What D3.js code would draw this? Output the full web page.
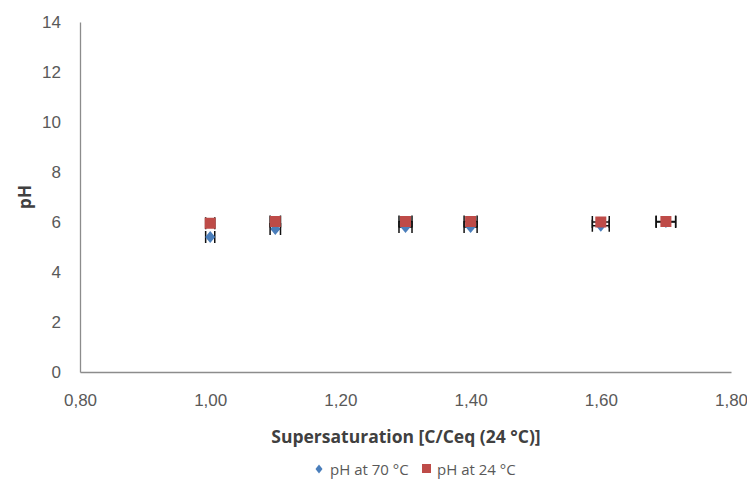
<!DOCTYPE html>
<html>
<head>
<meta charset="utf-8">
<script src="https://cdn.jsdelivr.net/npm/d3@7/dist/d3.min.js"></script>
<style>
  html, body { margin: 0; padding: 0; background: #fff; }
  svg { display: block; font-family: "Open Sans", "Noto Sans", sans-serif; }
</style>
</head>
<body>
<svg id="chart" width="747" height="484"></svg>
<script>
// Supersaturation (C/Ceq at 24 °C) for each run
const supersaturation = [1.00, 1.10, 1.30, 1.40, 1.60, 1.70];
// Measured pH values
const ph70 = [5.40, 5.72, 5.80, 5.80, 5.85, 6.00];
const ph24 = [5.95, 6.02, 6.02, 6.02, 6.00, 6.02];
// Horizontal uncertainty of the supersaturation
const xErr70 = [0.007, 0.008, 0.010, 0.010, 0.013, 0.015];
const xErr24 = [0.007, 0.008, 0.010, 0.010, 0.013, 0.015];
// Axis ticks
const xTicks = [0.80, 1.00, 1.20, 1.40, 1.60, 1.80];
const yTicks = [0, 2, 4, 6, 8, 10, 12, 14];
const seriesNames = ["pH at 70 °C", "pH at 24 °C"];

const svg = d3.select("#chart");
const x = d3.scaleLinear().domain([0.8, 1.8]).range([80, 731]);
const y = d3.scaleLinear().domain([0, 14]).range([372, 22]);
const axisColor = "#8c8c8c";
const textColor = "#595959";
const fmt = v => d3.format(".2f")(v).replace(".", ",");

// Y axis
const yAxis = svg.append("g").attr("transform", `translate(${x(0.8)},0)`)
  .call(d3.axisLeft(y).tickValues(yTicks).tickSize(0).tickPadding(19));
yAxis.select(".domain").attr("stroke", axisColor).attr("stroke-width", 1.3);
yAxis.selectAll("text").attr("fill", textColor).attr("font-size", 17);

// X axis
const xAxis = svg.append("g").attr("transform", `translate(0,${y(0)})`)
  .call(d3.axisBottom(x).tickValues(xTicks).tickFormat(fmt).tickSize(0).tickPadding(22));
xAxis.select(".domain").attr("stroke", axisColor).attr("stroke-width", 1.3);
xAxis.selectAll("text").attr("fill", textColor).attr("font-size", 17);

// Axis titles
svg.append("text").attr("x", 406).attr("y", 443)
  .attr("text-anchor", "middle").attr("font-size", 17.5).attr("font-weight", "bold")
  .attr("fill", "#404040").text("Supersaturation [C/Ceq (24 °C)]");
svg.append("text").attr("transform", "translate(31,197) rotate(-90)")
  .attr("text-anchor", "middle").attr("font-size", 17).attr("font-weight", "bold")
  .attr("fill", "#404040").text("pH");

const blue = "#4a7ebb";
const red = "#be4b48";

function errorBars(vals, errs) {
  const g = svg.append("g").attr("stroke", "#111").attr("stroke-width", 1.5);
  supersaturation.forEach((s, i) => {
    const cy = y(vals[i]);
    const x0 = x(s - errs[i]), x1 = x(s + errs[i]);
    g.append("line").attr("x1", x0).attr("x2", x1).attr("y1", cy).attr("y2", cy);
    g.append("line").attr("x1", x0).attr("x2", x0).attr("y1", cy - 6).attr("y2", cy + 6);
    g.append("line").attr("x1", x1).attr("x2", x1).attr("y1", cy - 6).attr("y2", cy + 6);
  });
}

// Series at 70 °C: diamonds
errorBars(ph70, xErr70);
svg.append("g").selectAll("path").data(supersaturation).join("path")
  .attr("transform", (d, i) => `translate(${x(d)},${y(ph70[i])})`)
  .attr("d", "M0,-6L5,0L0,6L-5,0Z").attr("fill", blue);

// Series at 24 °C: squares
errorBars(ph24, xErr24);
svg.append("g").selectAll("rect").data(supersaturation).join("rect")
  .attr("x", d => x(d) - 5.5).attr("y", (d, i) => y(ph24[i]) - 5.5)
  .attr("width", 11).attr("height", 11).attr("fill", red);

// Legend
const lg = svg.append("g").attr("font-size", 15).attr("fill", textColor);
lg.append("path").attr("transform", "translate(319,469)").attr("d", "M0,-4.5L3.5,0L0,4.5L-3.5,0Z").attr("fill", blue);
lg.append("text").attr("x", 330).attr("y", 475).attr("fill", textColor).text(seriesNames[0]);
lg.append("rect").attr("x", 422).attr("y", 464).attr("width", 9).attr("height", 9).attr("fill", red);
lg.append("text").attr("x", 437).attr("y", 475).attr("fill", textColor).text(seriesNames[1]);
</script>
</body>
</html>
